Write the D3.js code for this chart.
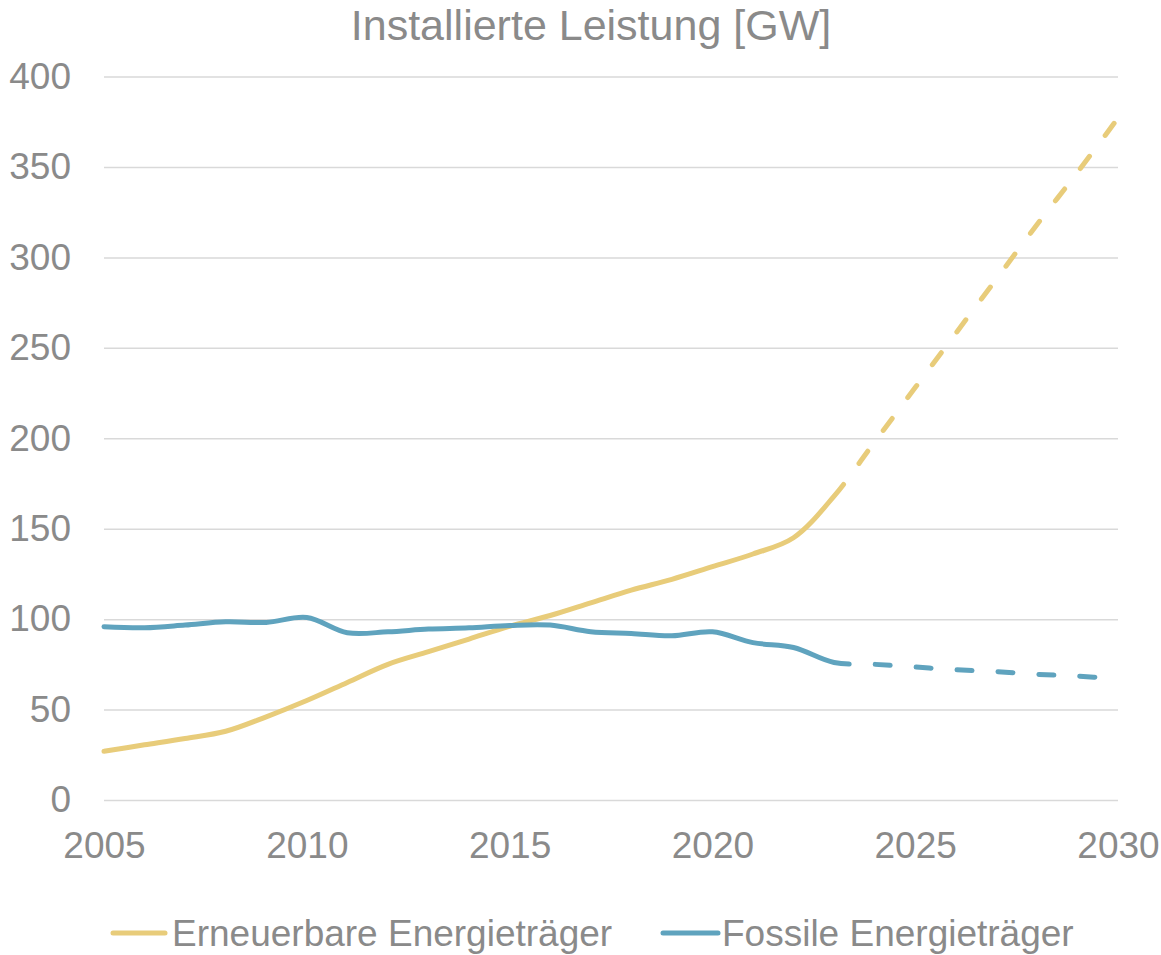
<!DOCTYPE html>
<html>
<head>
<meta charset="utf-8">
<style>
  body { margin: 0; background: #fff; }
  text { font-family: "Liberation Sans", Arial, sans-serif; fill: #8a8a8a; }
  .grid line { stroke: #d9d9d9; stroke-width: 1.5; }
  .grid .domain, .xaxis .domain { display: none; }
  .line { fill: none; stroke-width: 5; stroke-linecap: round; stroke-linejoin: round; }
</style>
</head>
<body>
<svg width="1161" height="955"></svg>
<script src="https://cdn.jsdelivr.net/npm/d3@7"></script>
<script>
  var years = [2005, 2006, 2007, 2008, 2009, 2010, 2011, 2012, 2013, 2014, 2015, 2016, 2017,
               2018, 2019, 2020, 2021, 2022, 2023, 2024, 2025, 2026, 2027, 2028, 2029, 2030];
  var erneuerbar = [27, 30.5, 34, 38, 46, 55, 65, 75, 82, 89, 96, 102, 109,
                    116, 122, 129, 136, 145, 168, 198, 228, 258, 288, 318, 347, 377];
  var fossil = [95.8, 95.2, 96.7, 98.5, 98.2, 100.9, 92.5, 93, 94.5, 95.2, 96.5, 96.7, 93,
                92, 90.8, 93, 87, 84.3, 76, 75, 73.5, 72, 71, 69.5, 68.5, 67];
  var projectionStart = 2023;
  var yTicks = [0, 50, 100, 150, 200, 250, 300, 350, 400];
  var xTicks = [2005, 2010, 2015, 2020, 2025, 2030];
  var seriesNames = ["Erneuerbare Energieträger", "Fossile Energieträger"];
  var colors = ["#e8cc7a", "#5fa3be"];

  var svg = d3.select("svg");
  var margin = {left: 104, top: 76.5, right: 43, bottom: 155};
  var width = 1161 - margin.left - margin.right,
      height = 955 - margin.top - margin.bottom;

  var g = svg.append("g").attr("transform", "translate(" + margin.left + "," + margin.top + ")");

  var x = d3.scaleLinear().domain([2005, 2030]).range([0, width]);
  var y = d3.scaleLinear().domain([0, 400]).range([height, 0]);

  // gridlines + y labels
  var gy = g.append("g").attr("class", "grid")
    .call(d3.axisLeft(y).tickValues(yTicks).tickSize(-width).tickPadding(33));
  gy.selectAll("text").attr("font-size", 37).attr("fill", "#8a8a8a");

  var gx = g.append("g").attr("class", "xaxis")
    .attr("transform", "translate(0," + height + ")")
    .call(d3.axisBottom(x).tickValues(xTicks).tickSize(0).tickPadding(32).tickFormat(d3.format("d")));
  gx.selectAll("text").attr("font-size", 37).attr("fill", "#8a8a8a");

  // title
  svg.append("text")
    .attr("x", 591).attr("y", 40)
    .attr("text-anchor", "middle")
    .attr("font-size", 43)
    .text("Installierte Leistung [GW]");

  var line = d3.line()
    .x(function(d) { return x(d[0]); })
    .y(function(d) { return y(d[1]); })
    .curve(d3.curveCatmullRom.alpha(0.5));

  [erneuerbar, fossil].forEach(function(vals, i) {
    var pts = years.map(function(yr, j) { return [yr, vals[j]]; });
    var path = g.append("path")
      .attr("class", "line")
      .attr("stroke", colors[i])
      .attr("d", line(pts));

    // solid up to projectionStart, dashed after
    var node = path.node(), total = node.getTotalLength();
    var target = x(projectionStart), lo = 0, hi = total;
    for (var k = 0; k < 40; k++) {
      var mid = (lo + hi) / 2;
      if (node.getPointAtLength(mid).x < target) lo = mid; else hi = mid;
    }
    var dash = 15, gap = 26;
    var arr = [lo + dash, gap];
    for (var s = lo + dash + gap; s < total + dash + gap; s += dash + gap) arr.push(dash, gap);
    path.attr("stroke-dasharray", arr.join(","));
  });

  // legend
  var legendItems = [{x1: 113, x2: 165, tx: 172}, {x1: 663, x2: 718, tx: 722}];
  legendItems.forEach(function(d, i) {
    svg.append("line")
      .attr("x1", d.x1).attr("x2", d.x2).attr("y1", 933).attr("y2", 933)
      .attr("stroke", colors[i]).attr("stroke-width", 5).attr("stroke-linecap", "round");
    svg.append("text")
      .attr("x", d.tx).attr("y", 946)
      .attr("font-size", 37)
      .text(seriesNames[i]);
  });
</script>
</body>
</html>
